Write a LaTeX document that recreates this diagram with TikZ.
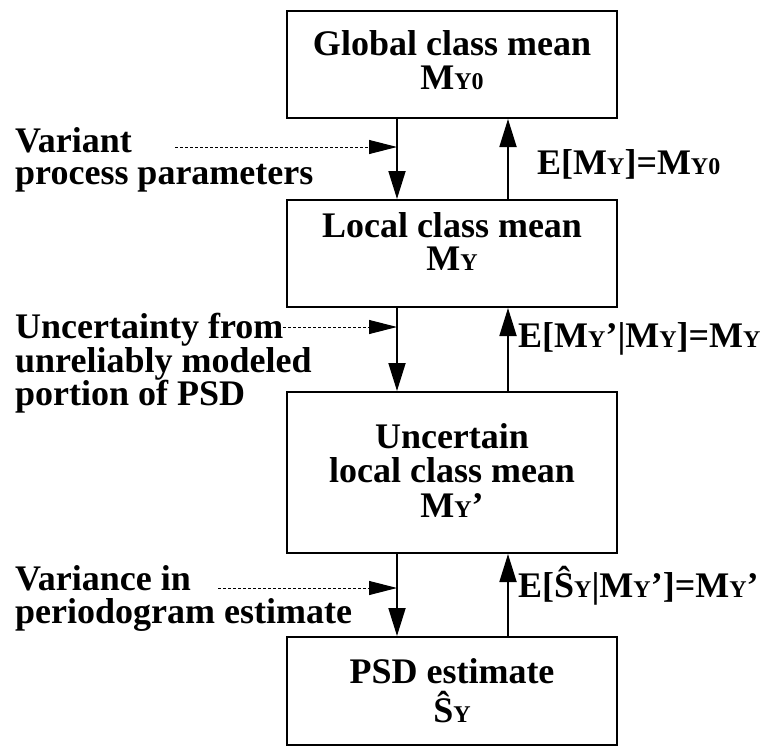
\documentclass[tikz,border=0pt]{standalone}
\usepackage{fontspec}
\setmainfont{Liberation Serif}
\usetikzlibrary{arrows.meta}
\newcommand{\sy}[1]{{\fontsize{24}{24}\selectfont #1}}
\begin{document}
\begin{tikzpicture}[x=1pt,y=1pt,
  box/.style={draw, line width=2pt, minimum width=330pt, inner sep=0pt},
  txt/.style={font=\fontsize{36}{34}\selectfont\bfseries, inner sep=0pt},
  flow/.style={line width=1.8pt, -{Triangle[length=28pt,width=17pt]}},
  infl/.style={line width=1pt, dash pattern=on 3pt off 2pt, -{Triangle[length=28pt,width=14pt]}}]
\useasboundingbox (0,0) rectangle (780,-747);
% boxes
\node[box, minimum height=107pt] (b1) at (452,-64.5) {};
\node[box, minimum height=107pt] (b2) at (452,-253.5) {};
\node[box, minimum height=161pt] (b3) at (452,-472.5) {};
\node[box, minimum height=108pt] (b4) at (452,-691) {};
% box texts
\node[txt, anchor=base] (t1a) at (452,-55) {Global class mean};
\node[txt, anchor=base] (t1b) at (452,-89) {M\sy{Y0}};
\node[txt, anchor=base] (t2a) at (452,-237) {Local class mean};
\node[txt, anchor=base] (t2b) at (452,-270) {M\sy{Y}};
\node[txt, anchor=base] (t3a) at (452,-448) {Uncertain};
\node[txt, anchor=base] (t3b) at (452,-482) {local class mean};
\node[txt, anchor=base] (t3c) at (452,-517) {M\sy{Y}’};
\node[txt, anchor=base] (t4a) at (452,-683) {PSD estimate};
\node[txt, anchor=base] (t4b) at (452,-722) {Ŝ\sy{Y}};
% left labels
\node[txt, anchor=base west] (l1a) at (15,-152) {Variant};
\node[txt, anchor=base west] (l1b) at (15,-184) {process parameters};
\node[txt, anchor=base west] (l2a) at (15,-338) {Uncertainty from};
\node[txt, anchor=base west] (l2b) at (15,-372) {unreliably modeled};
\node[txt, anchor=base west] (l2c) at (15,-405) {portion of PSD};
\node[txt, anchor=base west] (l3a) at (15,-590) {Variance in};
\node[txt, anchor=base west] (l3b) at (15,-623) {periodogram estimate};
% right labels
\node[txt, anchor=base west] (r1) at (537,-174) {E[M\sy{Y}]=M\sy{Y0}};
\node[txt, anchor=base west] (r2) at (518,-347) {E[M\sy{Y}’|M\sy{Y}]=M\sy{Y}};
\node[txt, anchor=base west] (r3) at (518,-597) {E[Ŝ\sy{Y}|M\sy{Y}’]=M\sy{Y}’};
% flow arrows
\draw[flow] ([xshift=-55pt]b1.south) -- ([xshift=-55pt]b2.north);
\draw[flow] ([xshift=56pt]b2.north) -- ([xshift=56pt]b1.south);
\draw[flow] ([xshift=-55pt]b2.south) -- ([xshift=-55pt]b3.north);
\draw[flow] ([xshift=56pt]b3.north) -- ([xshift=56pt]b2.south);
\draw[flow] ([xshift=-55pt]b3.south) -- ([xshift=-55pt]b4.north);
\draw[flow] ([xshift=56pt]b4.north) -- ([xshift=56pt]b3.south);
% influence arrows
\coordinate (ax) at (397,0);
\coordinate (d1) at (175,-147);
\coordinate (d2) at (283,-327);
\coordinate (d3) at (218,-588);
\draw[infl] (d1) -- (d1 -| ax);
\draw[infl] (d2) -- (d2 -| ax);
\draw[infl] (d3) -- (d3 -| ax);
\end{tikzpicture}
\end{document}
